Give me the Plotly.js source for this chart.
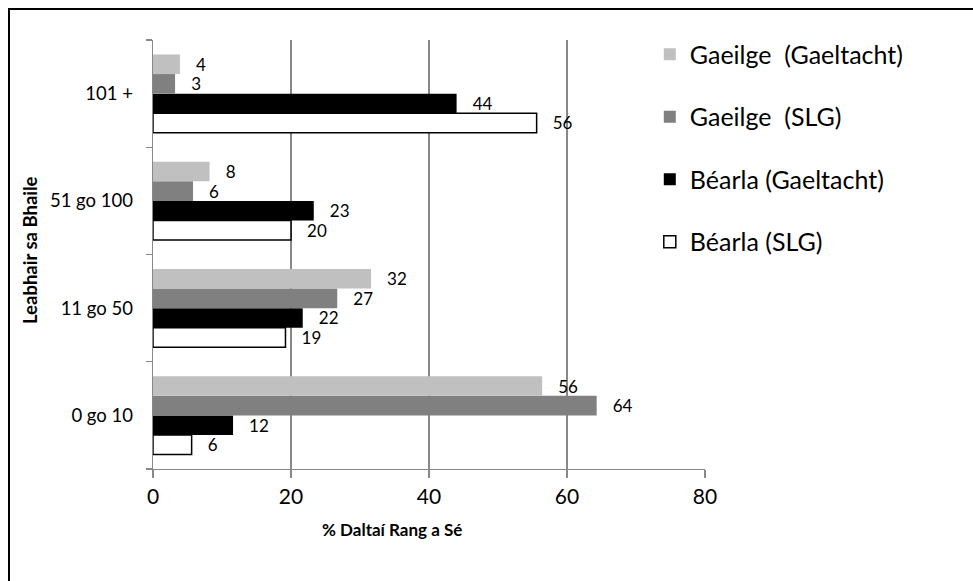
<!DOCTYPE html>
<html>
<head>
<meta charset="utf-8">
<script src="https://cdn.plot.ly/plotly-3.0.1.min.js"></script>
<style>
html,body{margin:0;padding:0;overflow:hidden;background:#fff;}
#chart{width:973px;height:581px;position:absolute;left:0;top:0;}
#frame{position:absolute;left:8px;top:8px;width:1200px;height:900px;border-left:2px solid #000;border-top:2px solid #000;pointer-events:none;}
</style>
</head>
<body>
<div id="chart"></div>
<div id="frame"></div>
<script>
const categories = ['0 go 10', '11 go 50', '51 go 100', '101 +'];
const seriesNames = ['Gaeilge \u00a0(Gaeltacht)', 'Gaeilge \u00a0(SLG)', 'Béarla (Gaeltacht)', 'Béarla (SLG)'];
const gaeilgeGaeltacht = [56.4, 31.6, 8.2, 3.9];
const gaeilgeSLG = [64.3, 26.7, 5.8, 3.2];
const bearlaGaeltacht = [11.6, 21.7, 23.3, 44.0];
const bearlaSLG = [5.6, 19.2, 20.0, 55.6];
const xTicks = [0, 20, 40, 60, 80];
const xTitle = '% Daltaí Rang a Sé';
const yTitle = 'Leabhair sa Bhaile';

const FONT = 'Lato, "Open Sans", sans-serif';
const GRID = '#888888';

function bar(name, values, fill, lineColor, lineWidth, rank) {
  return {
    type: 'bar', orientation: 'h', name: name, legendgroup: name, legendrank: rank,
    y: categories, x: values,
    marker: {color: fill, line: {color: lineColor, width: lineWidth}},
    texttemplate: '   %{x:.0f}', textposition: 'outside', cliponaxis: false,
    constraintext: 'none',
    textfont: {family: FONT, size: 17, color: '#000'},
    hoverinfo: 'x+y'
  };
}

const data = [
  bar(seriesNames[3], bearlaSLG, '#ffffff', '#000000', 1.5, 4),
  bar(seriesNames[2], bearlaGaeltacht, '#000000', '#000000', 0, 3),
  bar(seriesNames[1], gaeilgeSLG, '#808080', '#808080', 0, 2),
  bar(seriesNames[0], gaeilgeGaeltacht, '#c0c0c0', '#c0c0c0', 0, 1)
];

const layout = {
  width: 973, height: 581,
  margin: {l: 153, r: 268, t: 40, b: 112},
  paper_bgcolor: '#fff', plot_bgcolor: '#fff',
  font: {family: FONT, color: '#000'},
  barmode: 'group', bargap: 0.27, bargroupgap: 0,
  showlegend: true,
  legend: {
    x: 0.9, xanchor: 'left', y: 1.02, yanchor: 'top',
    bgcolor: '#ffffff', borderwidth: 0,
    traceorder: 'grouped', tracegroupgap: 27,
    font: {family: FONT, size: 25, color: '#000'}
  },
  xaxis: {
    range: [0, 80], tickvals: xTicks, ticktext: xTicks.map(String),
    showgrid: true, gridcolor: GRID, gridwidth: 1.3,
    showline: true, linecolor: GRID, linewidth: 1.3,
    ticks: 'outside', ticklen: 8, tickcolor: GRID, tickwidth: 1.3,
    zeroline: false, ticklabelstandoff: 0,
    tickfont: {family: FONT, size: 21, color: '#000'}
  },
  yaxis: {
    type: 'category', categoryorder: 'array', categoryarray: categories,
    showgrid: false, showline: true, linecolor: GRID, linewidth: 1.3,
    ticks: 'outside', tickson: 'boundaries', ticklen: 6, tickcolor: GRID, tickwidth: 1.3,
    ticklabelstandoff: 15,
    tickfont: {family: FONT, size: 18.5, color: '#000'}
  },
  annotations: [
    {text: xTitle, xref: 'paper', yref: 'paper', x: 0.433, y: -0.142, xanchor: 'center', yanchor: 'middle',
     showarrow: false, font: {family: FONT, size: 17, color: '#000', weight: 'bold'}},
    {text: yTitle, xref: 'paper', yref: 'paper', x: -0.2228, y: 0.5105, xanchor: 'center', yanchor: 'middle',
     textangle: -90, showarrow: false, font: {family: FONT, size: 18.5, color: '#000', weight: 'bold'}}
  ]
};

Plotly.newPlot('chart', data, layout, {displayModeBar: false, staticPlot: true});
</script>
</body>
</html>
